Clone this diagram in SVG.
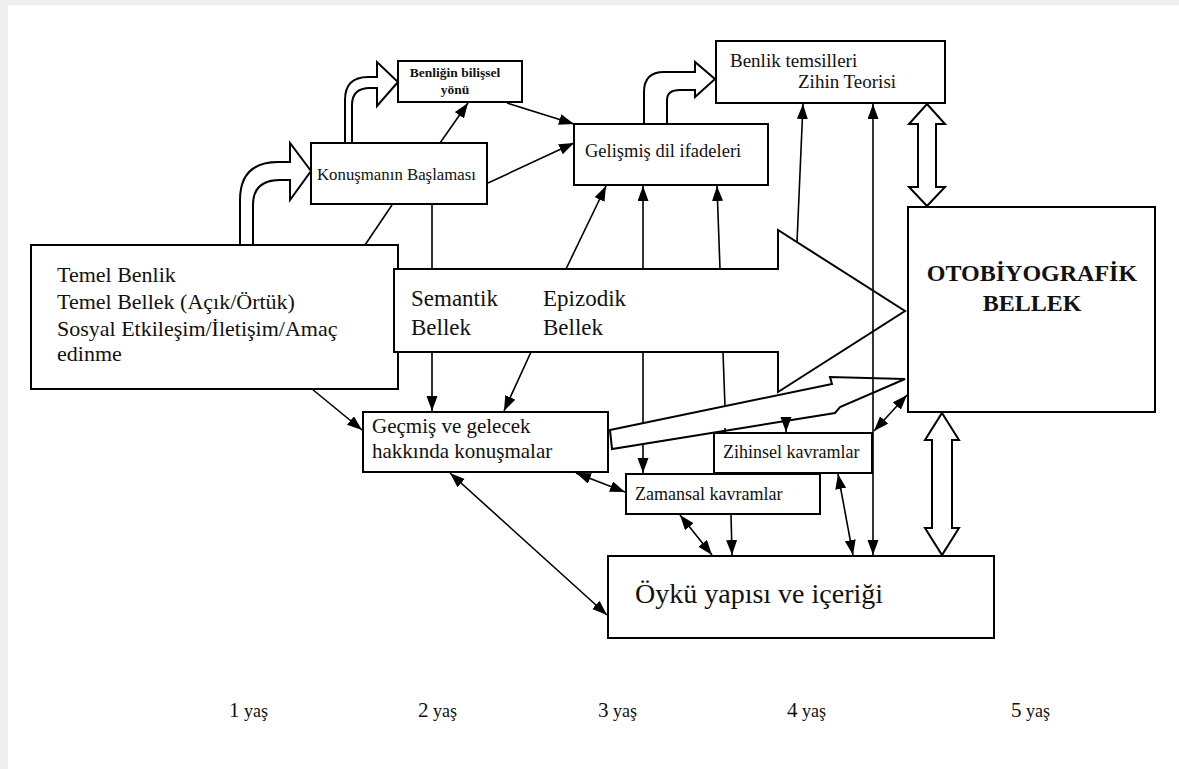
<svg xmlns="http://www.w3.org/2000/svg" width="1179" height="769" viewBox="0 0 1179 769">
<defs>
<marker id="ah" markerUnits="userSpaceOnUse" markerWidth="16" markerHeight="12" refX="15" refY="5.5" orient="auto-start-reverse">
<path d="M0,0 L15,5.5 L0,11 Z" fill="#000"/>
</marker>
<style>
.box{fill:#fff;stroke:#000;stroke-width:2}
.hollow{fill:#fff;stroke:#000;stroke-width:2;stroke-linejoin:miter}
.ln{fill:none;stroke:#000;stroke-width:1.6}
.arr{fill:none;stroke:#000;stroke-width:1.6;marker-end:url(#ah)}
.dbl{fill:none;stroke:#000;stroke-width:1.6;marker-start:url(#ah);marker-end:url(#ah)}
text{font-family:"Liberation Serif","Times New Roman",serif;fill:#111}
.b{font-weight:bold}
</style>
</defs>
<rect x="0" y="0" width="1179" height="769" fill="#efefef"/>
<rect x="8" y="5" width="1171" height="764" fill="#fff"/>

<g id="temel">
<rect class="box" x="31" y="245" width="367" height="144"/>
<text x="57" y="282" font-size="22">Temel Benlik</text>
<text x="57" y="309" font-size="22">Temel Bellek (Açık/Örtük)</text>
<text x="57" y="336" font-size="22">Sosyal Etkileşim/İletişim/Amaç</text>
<text x="57" y="361" font-size="22">edinme</text>
</g>

<g id="bellek-arrow">
<path class="hollow" d="M394,269 L778,269 L778,230 L905,311 L778,392 L778,352 L394,352 Z"/>
<text x="411" y="306" font-size="23">Semantik</text>
<text x="411" y="335" font-size="23">Bellek</text>
<text x="543" y="306" font-size="23">Epizodik</text>
<text x="543" y="335" font-size="23">Bellek</text>
</g>

<g id="konusma">
<rect class="box" x="311" y="143" width="176" height="61"/>
<text x="317" y="180" font-size="16.8">Konuşmanın Başlaması</text>
</g>

<g id="benligin">
<rect class="box" x="398" y="61" width="124" height="41"/>
<text class="b" x="455" y="77" font-size="13.5" text-anchor="middle">Benliğin bilişsel</text>
<text class="b" x="455" y="94" font-size="13.5" text-anchor="middle">yönü</text>
</g>

<g id="gelismis">
<rect class="box" x="574" y="124" width="194" height="61"/>
<text x="585" y="157" font-size="18.5">Gelişmiş dil ifadeleri</text>
</g>

<g id="benlik-temsilleri">
<rect class="box" x="716" y="41" width="229" height="62"/>
<text x="730" y="67" font-size="19">Benlik temsilleri</text>
<text x="798" y="88" font-size="19">Zihin Teorisi</text>
</g>

<g id="otobiyografik">
<rect class="box" x="908" y="207" width="247" height="205"/>
<text class="b" x="1032" y="281" font-size="24" text-anchor="middle">OTOBİYOGRAFİK</text>
<text class="b" x="1032" y="311" font-size="24" text-anchor="middle">BELLEK</text>
</g>

<g id="gecmis">
<rect class="box" x="363" y="412" width="245" height="60"/>
<text x="372" y="433" font-size="21">Geçmiş ve gelecek</text>
<text x="372" y="458" font-size="21">hakkında konuşmalar</text>
</g>

<g id="zihinsel">
<rect class="box" x="714" y="433" width="158" height="40"/>
<text x="723" y="458" font-size="18">Zihinsel kavramlar</text>
</g>

<g id="zamansal">
<rect class="box" x="626" y="474" width="194" height="40"/>
<text x="635" y="500" font-size="18">Zamansal kavramlar</text>
</g>

<g id="oyku">
<rect class="box" x="608" y="556" width="386" height="82"/>
<text x="635" y="603" font-size="28">Öykü yapısı ve içeriği</text>
</g>

<g id="connectors">
<path class="hollow" d="M240,245 L240,200 Q240,162 278,162 L290,162 L290,143 L311,171 L290,200 L290,180 L280,180 Q253,180 253,205 L253,245 Z"/>
<path class="hollow" d="M345,143 L345,100 Q345,77 368,77 L377,77 L377,62 L398,82 L377,106 L377,88 L370,88 Q352,88 352,105 L352,143 Z"/>
<path class="hollow" d="M644,124 L644,92 Q644,72 664,72 L695,72 L695,62 L715,79 L695,97 L695,90 L680,90 Q667,90 667,100 L667,124 Z"/>
<path class="hollow" d="M927,104 L945,124 L936,124 L936,187 L945,187 L927,206 L909,187 L918,187 L918,124 L909,124 Z"/>
<path class="hollow" d="M942,413 L959,440 L952,440 L952,528 L959,528 L942,555 L925,528 L932,528 L932,440 L925,440 Z"/>
<path class="hollow" d="M610,430 L832,384 L830,377 L905,379 L840,407 L835,413 L612,449 Z"/>

<line class="arr" x1="440" y1="143" x2="468" y2="103"/>
<line class="arr" x1="507" y1="103" x2="574" y2="124"/>
<line class="arr" x1="488" y1="183" x2="574" y2="143"/>
<line class="ln" x1="365" y1="245" x2="392" y2="205"/>
<line class="ln" x1="432" y1="204" x2="432" y2="269"/>
<line class="arr" x1="432" y1="352" x2="432" y2="411"/>
<line class="arr" x1="566" y1="269" x2="606" y2="186"/>
<line class="arr" x1="531" y1="352" x2="504" y2="411"/>
<line class="arr" x1="643" y1="269" x2="643" y2="186"/>
<line class="ln" x1="643" y1="352" x2="643" y2="423"/>
<line class="arr" x1="643" y1="445" x2="643" y2="473"/>
<line class="arr" x1="720" y1="269" x2="717" y2="186"/>
<line class="ln" x1="723" y1="352" x2="725" y2="407"/>
<line class="ln" x1="725" y1="428" x2="725" y2="433"/>
<line class="arr" x1="786" y1="419" x2="786" y2="432"/>
<line class="arr" x1="797" y1="242" x2="803" y2="104"/>
<line class="dbl" x1="873" y1="104" x2="873" y2="555"/>
<line class="dbl" x1="874" y1="431" x2="907" y2="395"/>
<line class="arr" x1="312" y1="389" x2="362" y2="430"/>
<line class="dbl" x1="576" y1="473" x2="625" y2="492"/>
<line class="dbl" x1="450" y1="473" x2="607" y2="615"/>
<line class="dbl" x1="680" y1="515" x2="712" y2="555"/>
<line class="arr" x1="731" y1="514" x2="732" y2="555"/>
<line class="dbl" x1="838" y1="474" x2="853" y2="555"/>
</g>

<g id="ages" font-size="18">
<text x="229" y="717"><tspan font-size="21">1</tspan> yaş</text>
<text x="418" y="717"><tspan font-size="21">2</tspan>  yaş</text>
<text x="598" y="717"><tspan font-size="21">3</tspan> yaş</text>
<text x="787" y="717"><tspan font-size="21">4</tspan> yaş</text>
<text x="1011" y="717"><tspan font-size="21">5</tspan> yaş</text>
</g>
</svg>
